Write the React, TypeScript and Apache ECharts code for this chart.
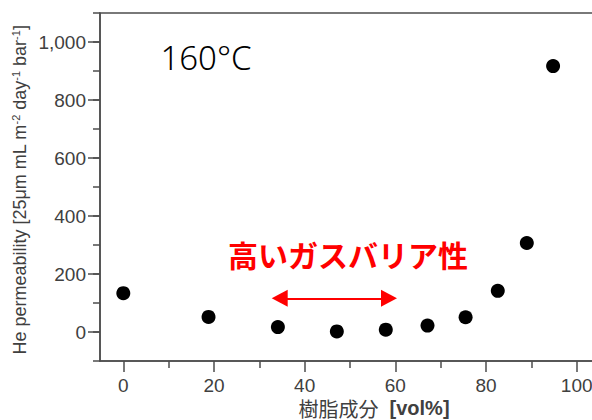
import React, { useEffect, useRef } from "react";
import * as echarts from "echarts";

const resinVol = [0, 18.8, 34.1, 47.1, 57.9, 67.1, 75.5, 82.6, 89.0, 94.8];
const permeability = [134, 52, 17, 2, 8, 22, 51, 142, 307, 917];
const xMajorTicks = [0, 20, 40, 60, 80, 100];
const xMinorTicks = [10, 30, 50, 70, 90];
const yMajorTicks = [0, 200, 400, 600, 800, 1000];
const arrowRange = [34.5, 58.6];
const arrowLevel = 116;
const tempLabel = "160°C";
const highBarrierLabel = "高いガスバリア性";

export default function App() {
  const ref = useRef<HTMLDivElement>(null);
  useEffect(() => {
    document.body.style.margin = "0";
    const chart = echarts.init(ref.current!, null, { renderer: "svg" });
    const axisColor = "#4d4d4d";
    const labelFont = "'Liberation Sans', Arial, sans-serif";
    chart.setOption({
      animation: false,
      grid: {
        left: 100,
        top: 13,
        right: -30,
        bottom: 59,
        outerBoundsMode: "none",
        containLabel: false,
        show: true,
        borderColor: axisColor,
        borderWidth: 1.5,
        backgroundColor: "transparent",
      },
      xAxis: [
        {
          type: "value",
          min: -5.14,
          max: 110,
          position: "bottom",
          splitLine: { show: false },
          axisLine: { show: true, onZero: false, lineStyle: { color: axisColor, width: 1.5 } },
          axisTick: { show: true, length: 11, customValues: xMajorTicks, lineStyle: { color: axisColor, width: 1.5 } },
          axisLabel: {
            customValues: xMajorTicks,
            margin: 15,
            fontSize: 19,
            color: "#404040",
            fontFamily: labelFont,
          },
        },
        {
          type: "value",
          min: -5.14,
          max: 110,
          position: "bottom",
          splitLine: { show: false },
          axisLine: { show: false, onZero: false },
          axisTick: { show: true, length: 7, customValues: xMinorTicks, lineStyle: { color: axisColor, width: 1.5 } },
          axisLabel: { show: false },
        },
      ],
      yAxis: [
        {
          type: "value",
          min: -100,
          max: 1100,
          interval: 100,
          position: "left",
          splitLine: { show: false },
          axisLine: { show: true, onZero: false, lineStyle: { color: axisColor, width: 1.5 } },
          axisTick: { show: true, length: 7, lineStyle: { color: axisColor, width: 1.5 } },
          axisLabel: {
            customValues: yMajorTicks,
            margin: 14,
            fontSize: 19,
            color: "#404040",
            fontFamily: labelFont,
            formatter: (v: number) => v.toLocaleString("en-US"),
          },
        },
        {
          type: "value",
          min: -100,
          max: 1100,
          interval: 100,
          position: "left",
          splitLine: { show: false },
          axisLine: { show: false, onZero: false },
          axisTick: { show: true, length: 12, customValues: yMajorTicks, lineStyle: { color: axisColor, width: 1.5 } },
          axisLabel: { show: false },
        },
      ],
      series: [
        {
          type: "scatter",
          xAxisIndex: 0,
          yAxisIndex: 0,
          data: resinVol.map((x, i) => [x, permeability[i]]),
          symbol: "circle",
          symbolSize: 14,
          itemStyle: { color: "#000000", opacity: 1 },
          z: 5,
          markLine: {
            silent: true,
            animation: false,
            label: { show: false },
            emphasis: { disabled: true },
            data: [
              [
                { coord: [-20, 0], symbol: "none", lineStyle: { color: "#808080", width: 2.5, type: "solid" } },
                { coord: [200, 0], symbol: "none" },
              ],
              [
                {
                  coord: [arrowRange[0], arrowLevel],
                  symbol: "triangle",
                  symbolSize: [17, 16],
                  lineStyle: { color: "#ff0000", width: 2, type: "solid" },
                  itemStyle: { color: "#ff0000" },
                },
                { coord: [arrowRange[1], arrowLevel], symbol: "triangle", symbolSize: [17, 16] },
              ],
            ],
          },
        },
      ],
      graphic: [
        {
          type: "text",
          x: 20,
          y: 190,
          rotation: Math.PI / 2,
          style: {
            text: "He permeability [25μm mL m{sup|-2} day{sup|-1} bar{sup|-1}]",
            fontSize: 18,
            fontFamily: labelFont,
            fill: "#404040",
            align: "center",
            verticalAlign: "middle",
            rich: {
              sup: { fontSize: 11, verticalAlign: "top", lineHeight: 20, fill: "#404040", fontFamily: labelFont },
            },
          },
        },
        {
          type: "text",
          x: 374,
          y: 408,
          style: {
            text: "{a|樹脂成分}{b|  [vol%]}",
            align: "center",
            verticalAlign: "middle",
            rich: {
              a: { fontSize: 20, fontFamily: "'Noto Sans CJK JP', sans-serif", fill: "#404040" },
              b: { fontSize: 20, fontWeight: "bold", fontFamily: labelFont, fill: "#404040" },
            },
          },
        },
        {
          type: "text",
          x: 206,
          y: 57,
          style: {
            text: tempLabel,
            fontSize: 33,
            fontFamily: "'Noto Sans', sans-serif",
            fontWeight: 300,
            fill: "#000000",
            align: "center",
            verticalAlign: "middle",
          },
        },
        {
          type: "text",
          x: 348,
          y: 254,
          style: {
            text: highBarrierLabel,
            fontSize: 30,
            fontFamily: "'Noto Sans CJK JP', sans-serif",
            fontWeight: "bold",
            fill: "#ff0000",
            align: "center",
            verticalAlign: "middle",
          },
        },
      ],
    });
    return () => chart.dispose();
  }, []);
  return (
    <div
      ref={ref}
      style={{ position: "absolute", left: 0, top: 0, width: 592, height: 420, background: "#ffffff" }}
    />
  );
}
